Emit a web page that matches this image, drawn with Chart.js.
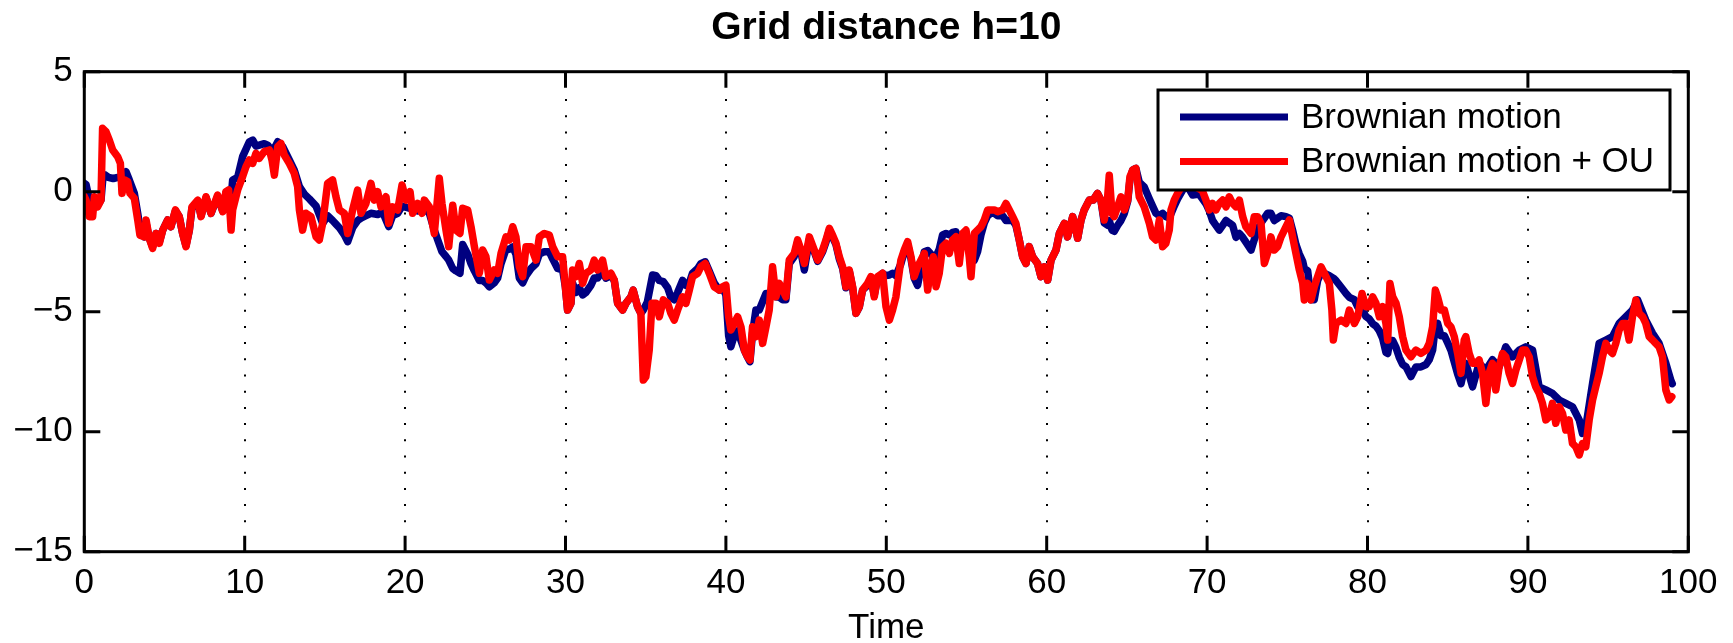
<html>
<head>
    <title>Grid distance h=10</title>
    <script src="https://cdn.jsdelivr.net/npm/chart.js@4.4.1/dist/chart.umd.min.js"></script>
    <style>
        body { margin: 0; background: #fff; }
        #wrap { position: relative; width: 1733px; height: 643px; }
    </style>
</head>
<body>
<div id="wrap">
    <canvas id="bmChart"></canvas>
</div>

<script>
  // series (time, value)
  const seriesLabels = ['Brownian motion', 'Brownian motion + OU']

  const bmTimes = [0, 0.11, 0.3, 0.5, 0.7, 0.9, 1.04, 1.15, 1.3, 1.5, 1.8, 2.1, 2.3, 2.6, 2.8, 3.12, 3.33, 3.47, 3.74, 3.85,
    4.05, 4.26, 4.47, 4.68, 4.89, 5.2, 5.4, 5.68, 5.92, 6.13, 6.34, 6.55, 6.71, 7.07, 7.28, 7.59, 7.9, 8.31, 8.63, 8.83,
    9.0, 9.15, 9.25, 9.56, 9.87, 10.29, 10.5, 10.7, 10.91, 11.22, 11.43, 11.74, 12.06, 12.37, 12.78, 13.09, 13.41, 13.72, 14.03, 14.45,
    14.86, 15.17, 15.48, 15.69, 15.9, 16.21, 16.42, 16.73, 17.04, 17.25, 17.56, 17.87, 18.29, 18.6, 18.98, 19.22, 19.54, 19.81, 20.31, 20.78,
    21.2, 21.51, 21.82, 22.03, 22.3, 22.55, 22.72, 22.97, 23.17, 23.42, 23.59, 23.9, 24.11, 24.32, 24.63, 24.84, 25.04, 25.25, 25.56, 25.77,
    25.98, 26.29, 26.5, 26.71, 26.91, 27.12, 27.33, 27.54, 27.85, 28.16, 28.37, 28.68, 28.99, 29.2, 29.51, 29.82, 29.99, 30.13, 30.34, 30.44,
    30.65, 30.86, 31.07, 31.27, 31.59, 31.79, 32.0, 32.31, 32.52, 32.83, 33.04, 33.25, 33.56, 33.77, 34.08, 34.22, 34.49, 34.7, 34.85, 35.1,
    35.43, 35.64, 35.85, 36.1, 36.37, 36.57, 36.78, 36.99, 37.3, 37.51, 37.72, 37.92, 38.24, 38.44, 38.71, 38.96, 39.27, 39.59, 39.79, 40.0,
    40.17, 40.31, 40.52, 40.73, 40.94, 41.15, 41.35, 41.5, 41.66, 41.87, 42.08, 42.5, 42.91, 43.12, 43.33, 43.54, 43.74, 43.95, 44.26, 44.47,
    44.68, 44.89, 45.2, 45.51, 45.72, 46.03, 46.24, 46.45, 46.65, 46.86, 47.07, 47.28, 47.48, 47.69, 47.9, 48.11, 48.32, 48.52, 48.83, 49.04,
    49.25, 49.46, 49.77, 49.98, 50.19, 50.39, 50.6, 50.91, 51.12, 51.33, 51.54, 51.74, 51.95, 52.16, 52.37, 52.58, 52.78, 52.93, 53.1, 53.3,
    53.51, 53.72, 53.93, 54.13, 54.34, 54.55, 54.76, 54.97, 55.17, 55.28, 55.49, 55.69, 55.9, 56.11, 56.32, 56.52, 56.73, 56.94, 57.25, 57.46,
    57.67, 57.88, 58.08, 58.29, 58.5, 58.71, 58.91, 59.12, 59.43, 59.64, 59.85, 60.06, 60.27, 60.58, 60.79, 61.1, 61.3, 61.62, 61.82, 61.93,
    62.14, 62.34, 62.66, 62.9, 63.17, 63.38, 63.59, 63.8, 63.9, 64.07, 64.21, 64.42, 64.63, 64.84, 65.05, 65.19, 65.36, 65.56, 65.77, 66.08,
    66.4, 66.6, 66.81, 67.02, 67.23, 67.43, 67.64, 67.95, 68.16, 68.5, 68.8, 69.1, 69.5, 69.93, 70.14, 70.34, 70.55, 70.76, 70.97, 71.18,
    71.38, 71.59, 71.8, 72.01, 72.22, 72.42, 72.74, 72.94, 73.15, 73.36, 73.57, 73.77, 73.98, 74.19, 74.4, 74.61, 74.92, 75.13, 75.33, 75.54,
    75.75, 75.96, 76.06, 76.27, 76.48, 76.68, 76.89, 77.1, 77.31, 77.62, 77.87, 78.03, 78.35, 78.66, 78.87, 79.18, 79.39, 79.66, 79.9, 80.11,
    80.32, 80.53, 80.74, 80.94, 81.15, 81.26, 81.4, 81.57, 81.78, 81.98, 82.19, 82.4, 82.71, 83.02, 83.33, 83.65, 83.85, 84.06, 84.23, 84.37,
    84.58, 84.79, 85.0, 85.2, 85.41, 85.62, 85.83, 86.03, 86.13, 86.55, 86.96, 87.38, 87.79, 88.21, 88.62, 89.04, 89.46, 89.87, 90.29, 90.7,
    91.12, 91.53, 91.95, 92.36, 92.78, 93.2, 93.4, 93.61, 94.03, 94.44, 94.86, 95.27, 95.69, 96.11, 96.52, 96.84, 97.35, 97.77, 98.18, 98.6,
    98.91, 99.0]
  const bmValues = [0.35, 0.3, -0.3, -0.5, -0.3, -0.5, -0.35, 0.5, 0.7, 0.6, 0.55, 0.6, 0.55, 0.83, 0.5, -0.07, -0.9, -1.5, -1.88, -1.3,
    -1.94, -2.3, -1.74, -2.1, -1.6, -1.18, -1.46, -0.8, -1.04, -1.74, -2.25, -1.6, -0.7, -0.4, -1.0, -0.25, -0.9, -0.2, -0.8, -0.05,
    0.05, -0.3, 0.49, 0.6, 1.46, 2.08, 2.15, 1.9, 1.94, 2.0, 1.94, 1.67, 2.08, 1.88, 1.32, 0.9, 0.21, -0.1, -0.3, -0.6,
    -1.32, -1.0, -1.2, -1.35, -1.5, -1.8, -2.08, -1.5, -1.2, -1.1, -1.0, -0.9, -0.95, -0.85, -1.45, -1.0, -0.9, -0.6, -0.7, -0.8,
    -0.7, -0.9, -1.6, -2.0, -2.5, -2.7, -2.85, -3.2, -3.3, -3.4, -2.2, -2.6, -3.0, -3.3, -3.7, -3.7, -3.8, -3.96, -3.8, -3.6,
    -3.0, -2.4, -2.4, -2.3, -2.6, -3.6, -3.8, -3.5, -3.2, -3.0, -2.6, -2.5, -2.5, -2.8, -3.2, -3.26, -3.96, -4.93, -4.65, -3.8,
    -4.2, -4.0, -4.3, -4.2, -3.9, -3.6, -3.6, -3.3, -3.6, -3.5, -3.7, -4.65, -4.93, -4.65, -4.38, -4.1, -4.79, -5.07, -4.93, -4.6,
    -3.47, -3.5, -3.7, -3.75, -4.0, -4.4, -4.5, -4.2, -3.7, -3.9, -3.8, -3.4, -3.2, -3.0, -2.92, -3.3, -3.8, -4.1, -4.0, -4.3,
    -6.0, -6.46, -6.0, -5.8, -6.2, -6.6, -6.9, -7.08, -5.9, -4.93, -4.93, -4.24, -4.24, -4.38, -4.4, -4.5, -4.5, -3.0, -2.7, -2.1,
    -2.5, -3.26, -2.0, -2.5, -2.9, -2.5, -2.1, -1.6, -1.9, -2.2, -2.8, -3.2, -4.0, -3.3, -4.0, -5.07, -4.8, -4.1, -3.9, -3.6,
    -4.3, -3.6, -3.4, -3.5, -3.47, -3.4, -3.5, -3.0, -2.5, -2.2, -2.8, -3.6, -3.9, -3.2, -2.5, -2.45, -2.6, -2.7, -2.7, -2.4,
    -1.8, -1.74, -1.8, -1.7, -1.67, -2.2, -1.8, -1.7, -2.4, -2.8, -2.85, -2.5, -1.8, -1.3, -1.0, -0.9, -0.9, -1.0, -1.0, -1.2,
    -1.2, -1.2, -1.4, -2.01, -2.71, -2.99, -2.29, -2.71, -2.99, -3.54, -3.13, -3.68, -2.85, -2.43, -1.74, -1.32, -1.88, -1.04, -1.6, -1.94,
    -1.18, -0.76, -0.35, -0.35, -0.07, -0.35, -1.3, -1.4, -1.2, -1.6, -1.65, -1.4, -1.2, -0.9, -0.4, 0.5, 0.9, 0.97, 0.4, 0.2,
    -0.3, -0.6, -0.9, -1.0, -0.9, -1.04, -1.1, -0.6, -0.3, 0.1, 0.2, -0.14, -0.1, -0.5, -0.8, -1.2, -1.4, -1.6, -1.4, -1.2,
    -1.3, -1.4, -1.9, -1.74, -1.9, -2.1, -2.43, -2.0, -1.6, -1.3, -1.1, -0.9, -0.9, -1.2, -1.1, -1.0, -1.04, -1.1, -1.6, -2.2,
    -2.6, -2.9, -3.2, -3.3, -4.5, -4.5, -3.7, -3.4, -3.4, -3.5, -3.6, -3.7, -3.97, -4.24, -4.4, -4.5, -4.8, -4.9, -5.2, -5.3,
    -5.5, -5.6, -5.8, -6.1, -6.7, -6.74, -6.2, -6.2, -6.5, -6.9, -7.2, -7.3, -7.7, -7.3, -7.3, -7.2, -7.0, -6.6, -5.6, -5.49,
    -6.0, -6.0, -6.3, -6.6, -7.1, -7.6, -8.0, -7.4, -7.15, -8.13, -7.15, -7.43, -7.0, -7.3, -6.46, -6.88, -6.6, -6.46, -6.6, -8.13,
    -8.26, -8.4, -8.68, -8.82, -8.96, -9.51, -10.07, -9.8, -7.99, -6.32, -6.18, -6.04, -5.49, -5.21, -4.93, -4.51, -5.35, -5.9, -6.32, -7.15,
    -7.86, -8.0]

  const ouTimes = [0, 0.11, 0.31, 0.52, 0.63, 0.83, 1.04, 1.14, 1.35, 1.56, 1.77, 2.08, 2.25, 2.35, 2.5, 2.7, 2.85, 3.12, 3.33, 3.47,
    3.74, 3.85, 4.05, 4.26, 4.47, 4.68, 4.89, 5.2, 5.4, 5.68, 5.92, 6.13, 6.34, 6.55, 6.71, 7.07, 7.28, 7.59, 7.9, 8.31,
    8.63, 8.83, 9.0, 9.15, 9.25, 9.56, 9.87, 10.08, 10.29, 10.5, 10.7, 10.91, 11.22, 11.54, 11.7, 11.85, 12.06, 12.26, 12.47, 12.78,
    13.09, 13.3, 13.41, 13.61, 13.82, 14.13, 14.45, 14.65, 14.86, 15.17, 15.48, 15.69, 15.9, 16.21, 16.42, 16.73, 17.04, 17.25, 17.56, 17.87,
    18.08, 18.29, 18.5, 18.81, 18.98, 19.22, 19.54, 19.81, 20.06, 20.31, 20.47, 20.78, 21.05, 21.2, 21.51, 21.82, 22.03, 22.13, 22.3, 22.55,
    22.72, 22.97, 23.17, 23.42, 23.59, 23.9, 24.11, 24.32, 24.63, 24.84, 25.04, 25.25, 25.56, 25.77, 25.98, 26.29, 26.5, 26.71, 26.91, 27.12,
    27.33, 27.54, 27.85, 28.16, 28.37, 28.68, 28.99, 29.2, 29.51, 29.82, 29.99, 30.13, 30.34, 30.44, 30.65, 30.86, 31.07, 31.27, 31.59, 31.79,
    32.0, 32.31, 32.52, 32.83, 33.04, 33.25, 33.56, 33.77, 34.08, 34.22, 34.49, 34.7, 34.85, 35.01, 35.22, 35.39, 35.64, 35.85, 36.1, 36.37,
    36.57, 36.78, 36.99, 37.3, 37.51, 37.72, 37.92, 38.24, 38.44, 38.71, 38.96, 39.27, 39.59, 39.79, 40.0, 40.17, 40.31, 40.52, 40.73, 40.94,
    41.15, 41.35, 41.5, 41.66, 41.87, 42.08, 42.29, 42.5, 42.7, 42.91, 43.12, 43.33, 43.54, 43.74, 43.95, 44.26, 44.47, 44.68, 44.89, 45.2,
    45.51, 45.72, 46.03, 46.24, 46.45, 46.65, 46.86, 47.07, 47.28, 47.48, 47.69, 47.9, 48.11, 48.32, 48.52, 48.83, 49.04, 49.25, 49.46, 49.77,
    49.98, 50.19, 50.39, 50.6, 50.91, 51.12, 51.33, 51.54, 51.74, 51.95, 52.16, 52.37, 52.58, 52.78, 52.93, 53.1, 53.3, 53.51, 53.72, 53.93,
    54.13, 54.34, 54.55, 54.76, 54.97, 55.17, 55.28, 55.49, 55.69, 55.9, 56.11, 56.32, 56.52, 56.73, 56.94, 57.25, 57.46, 57.67, 57.88, 58.08,
    58.29, 58.5, 58.71, 58.91, 59.12, 59.43, 59.64, 59.85, 60.06, 60.27, 60.58, 60.79, 61.1, 61.3, 61.62, 61.82, 61.93, 62.14, 62.34, 62.66,
    62.9, 63.17, 63.38, 63.59, 63.8, 63.9, 64.07, 64.21, 64.42, 64.63, 64.84, 65.05, 65.19, 65.36, 65.56, 65.77, 66.08, 66.4, 66.6, 66.81,
    67.02, 67.23, 67.43, 67.64, 67.75, 67.95, 68.16, 68.5, 68.9, 69.3, 69.7, 69.93, 70.14, 70.34, 70.55, 70.76, 70.97, 71.18, 71.38, 71.59,
    71.8, 72.01, 72.22, 72.42, 72.74, 72.94, 73.15, 73.36, 73.57, 73.77, 73.98, 74.19, 74.4, 74.61, 74.92, 75.13, 75.33, 75.54, 75.75, 75.96,
    76.06, 76.27, 76.48, 76.68, 76.89, 77.1, 77.31, 77.62, 77.78, 77.87, 78.03, 78.35, 78.66, 78.87, 79.18, 79.39, 79.66, 79.9, 80.11, 80.32,
    80.53, 80.74, 80.94, 81.15, 81.26, 81.4, 81.57, 81.78, 81.98, 82.19, 82.4, 82.71, 83.02, 83.33, 83.65, 83.85, 84.06, 84.23, 84.37, 84.58,
    84.79, 85.0, 85.2, 85.41, 85.62, 85.83, 86.03, 86.13, 86.34, 86.55, 86.75, 86.96, 87.17, 87.38, 87.58, 87.79, 88.0, 88.21, 88.42, 88.62,
    88.83, 89.04, 89.25, 89.46, 89.66, 89.87, 90.08, 90.29, 90.49, 90.7, 90.91, 91.12, 91.33, 91.53, 91.74, 91.95, 92.16, 92.36, 92.57, 92.78,
    92.99, 93.2, 93.4, 93.61, 93.82, 94.03, 94.23, 94.44, 94.65, 94.86, 95.07, 95.27, 95.48, 95.69, 95.9, 96.11, 96.31, 96.52, 96.73, 96.94,
    97.15, 97.35, 97.56, 97.77, 97.97, 98.18, 98.39, 98.6, 98.81, 98.97]
  const ouValues = [-0.2, -0.35, -1.04, -1.04, -0.21, -0.63, -0.35, 2.64, 2.5, 2.15, 1.74, 1.46, 1.18, -0.07, 0.49, 0.42, -0.07, -0.28, -1.18, -1.81,
    -1.88, -1.18, -1.94, -2.36, -1.74, -2.15, -1.6, -1.18, -1.46, -0.76, -1.04, -1.74, -2.29, -1.6, -0.63, -0.35, -1.04, -0.21, -0.9, -0.14,
    -0.83, 0, 0.07, -1.6, -0.76, 0.07, 0.63, 1.04, 1.32, 1.18, 1.6, 1.39, 1.67, 1.74, 1.32, 0.69, 1.88, 2.01, 1.53, 1.18,
    0.76, 0.21, -0.76, -1.6, -0.9, -1.04, -1.88, -2.01, -1.32, 0.35, 0.49, -0.21, -0.76, -0.9, -1.74, -0.76, 0.07, -0.9, -0.49, 0.35,
    -0.35, 0, -0.63, -0.21, -1.32, -0.63, -0.76, 0.28, -0.35, 0, -0.9, -0.49, -0.9, -0.35, -0.63, -1.74, -0.21, 0.56, -0.49, -1.6,
    -2.29, -0.56, -1.6, -1.74, -0.69, -0.76, -1.46, -2.29, -3.4, -2.43, -2.71, -3.68, -3.26, -3.4, -2.57, -1.88, -2.01, -1.46, -1.88, -3.13,
    -3.54, -2.29, -2.29, -2.85, -1.88, -1.74, -1.81, -2.29, -2.71, -2.71, -3.96, -4.93, -4.65, -3.26, -3.54, -2.99, -3.82, -3.4, -3.26, -2.85,
    -3.26, -2.85, -3.54, -3.4, -3.68, -4.65, -4.93, -4.65, -4.38, -4.1, -4.79, -5.07, -7.85, -7.71, -6.6, -4.65, -4.65, -5.21, -4.51, -4.65,
    -5.07, -5.35, -4.93, -4.38, -4.65, -4.1, -3.54, -3.4, -3.13, -2.99, -3.4, -3.96, -4.1, -3.96, -3.89, -5.21, -5.76, -5.49, -5.21, -5.63,
    -6.6, -6.88, -7.01, -5.63, -6.04, -5.35, -6.32, -5.63, -4.93, -3.13, -4.38, -3.82, -4.1, -4.38, -2.85, -2.57, -2.01, -2.43, -2.99, -1.88,
    -2.43, -2.85, -2.43, -2.01, -1.53, -1.81, -2.15, -2.71, -3.13, -3.96, -3.26, -3.96, -5.07, -4.79, -4.1, -3.82, -3.54, -4.38, -3.54, -3.4,
    -4.79, -5.35, -4.93, -4.38, -2.85, -2.43, -2.08, -2.71, -3.54, -3.13, -2.85, -2.57, -4.1, -3.13, -2.71, -3.96, -3.4, -2.29, -2.15, -2.57,
    -2.01, -1.88, -2.99, -1.74, -1.6, -2.71, -3.54, -1.74, -1.6, -1.46, -1.18, -0.76, -0.76, -0.76, -0.83, -0.76, -0.49, -0.76, -1.04, -1.32,
    -2.01, -2.71, -2.99, -2.29, -2.71, -2.99, -3.54, -3.13, -3.68, -2.85, -2.43, -1.74, -1.32, -1.88, -1.04, -1.6, -1.94, -1.18, -0.76, -0.35,
    -0.35, -0.07, -0.35, -1.18, -0.21, 0.69, -0.9, -1.04, -0.63, -0.21, -0.76, -0.35, 0.63, 0.9, 0.97, -0.21, -0.63, -1.32, -1.88, -2.01,
    -1.18, -2.29, -2.15, -1.6, -0.76, -0.35, -0.07, 0.3, 0.45, 0.2, 0.05, -0.35, -0.76, -0.49, -0.76, -0.49, -0.35, -0.63, -0.21, -0.49,
    -0.63, -0.35, -1.04, -1.46, -1.74, -1.04, -1.04, -1.32, -2.99, -2.57, -1.88, -2.43, -2.29, -1.88, -1.46, -1.18, -1.88, -2.57, -3.26, -3.82,
    -4.51, -3.82, -4.51, -3.96, -3.54, -3.13, -3.4, -3.82, -4.93, -6.18, -5.49, -5.35, -5.49, -4.93, -5.49, -5.21, -4.24, -4.79, -4.79, -4.38,
    -4.65, -5.21, -4.79, -5.49, -6.18, -3.82, -4.38, -4.65, -5.21, -6.04, -6.6, -6.88, -6.6, -6.74, -6.6, -6.32, -5.63, -4.1, -4.38, -4.93,
    -4.93, -5.49, -5.63, -6.04, -6.74, -7.57, -6.18, -6.04, -6.74, -7.15, -7.15, -7.01, -7.57, -8.82, -7.57, -7.15, -8.26, -7.29, -6.74, -6.88,
    -7.57, -7.99, -7.43, -7.01, -6.6, -6.6, -6.88, -7.71, -8.13, -8.4, -8.82, -9.51, -9.38, -8.82, -9.65, -8.96, -9.24, -9.93, -9.51, -10.49,
    -10.63, -10.97, -10.49, -10.63, -9.51, -8.68, -8.13, -7.57, -6.88, -6.32, -6.6, -6.74, -6.32, -5.76, -5.49, -5.49, -6.18, -5.21, -4.51, -5.07,
    -5.21, -5.49, -6.04, -6.18, -6.32, -6.46, -6.88, -8.26, -8.68, -8.54]

  const xTicks = [0, 10, 20, 30, 40, 50, 60, 70, 80, 90, 100]
  const yTicks = [5, 0, -5, -10, -15]

  const fontFamily = "'Liberation Sans', Arial, Helvetica, sans-serif"

  function toPoints(times, values) {
    let pts = []
    for (let i = 0; i < times.length; i++) {
      pts.push({ x: times[i], y: values[i] })
    }
    return pts
  }

  // matlab style box, inward ticks and a legend drawn over the data
  const matlabAxes = {
    id: 'matlabAxes',
    afterDatasetsDraw(chart) {
      const ctx = chart.ctx
      const a = chart.chartArea
      const xs = chart.scales.x
      const ys = chart.scales.y
      const tl = 16
      ctx.save()

      // legend box
      const lx = 1158, ly = 90, lw = 512, lh = 100
      ctx.fillStyle = '#fff'
      ctx.fillRect(lx, ly, lw, lh)
      ctx.lineWidth = 3
      ctx.strokeStyle = '#000'
      ctx.strokeRect(lx, ly, lw, lh)
      chart.data.datasets.forEach((ds, i) => {
        const yy = ly + 27 + i * 44.5
        ctx.beginPath()
        ctx.lineWidth = 7
        ctx.strokeStyle = ds.borderColor
        ctx.moveTo(lx + 22, yy)
        ctx.lineTo(lx + 130, yy)
        ctx.stroke()
        ctx.fillStyle = '#000'
        ctx.font = '35px ' + fontFamily
        ctx.textBaseline = 'middle'
        ctx.textAlign = 'left'
        ctx.fillText(ds.label, lx + 143, yy + 1)
      })

      // box and ticks
      ctx.lineWidth = 3
      ctx.strokeStyle = '#000'
      ctx.lineCap = 'butt'
      ctx.strokeRect(a.left, a.top, a.right - a.left, a.bottom - a.top)
      ctx.beginPath()
      xTicks.forEach(v => {
        const px = xs.getPixelForValue(v)
        ctx.moveTo(px, a.bottom)
        ctx.lineTo(px, a.bottom - tl)
        ctx.moveTo(px, a.top)
        ctx.lineTo(px, a.top + tl)
      })
      yTicks.forEach(v => {
        const py = ys.getPixelForValue(v)
        ctx.moveTo(a.left, py)
        ctx.lineTo(a.left + tl, py)
        ctx.moveTo(a.right, py)
        ctx.lineTo(a.right - tl, py)
      })
      ctx.stroke()
      ctx.restore()
    }
  }

  new Chart(document.getElementById('bmChart'), {
    type: 'line',
    data: {
      datasets: [
        {
          label: seriesLabels[0],
          data: toPoints(bmTimes, bmValues),
          borderColor: 'rgb(0, 0, 128)',
          borderWidth: 7.5,
          pointRadius: 0,
          tension: 0,
          fill: false,
          borderJoinStyle: 'round',
          borderCapStyle: 'round',
          order: 1
        },
        {
          label: seriesLabels[1],
          data: toPoints(ouTimes, ouValues),
          borderColor: 'rgb(255, 0, 0)',
          borderWidth: 7.5,
          pointRadius: 0,
          tension: 0,
          fill: false,
          borderJoinStyle: 'round',
          borderCapStyle: 'round',
          order: 0
        }
      ]
    },
    options: {
      responsive: true,
      maintainAspectRatio: false,
      animation: false,
      events: [],
      layout: { padding: { left: 0, right: 44.7, top: 0, bottom: 0 } },
      plugins: {
        legend: { display: false },
        tooltip: { enabled: false },
        title: {
          display: true,
          text: 'Grid distance h=10',
          color: '#000',
          fullSize: false,
          font: { family: fontFamily, size: 39, weight: 'bold', lineHeight: 1.2 },
          padding: { top: 4.6, bottom: 20.3 }
        }
      },
      scales: {
        x: {
          type: 'linear',
          min: 0,
          max: 100,
          afterBuildTicks: (s) => { s.ticks = xTicks.map(v => ({ value: v })) },
          afterFit: (s) => { s.height = 91.3 },
          ticks: {
            color: '#000',
            padding: 11,
            maxRotation: 0,
            autoSkip: false,
            font: { family: fontFamily, size: 35 }
          },
          grid: {
            display: true,
            drawTicks: false,
            color: '#000',
            lineWidth: 2
          },
          border: { display: false, dash: [2, 14.2], dashOffset: 5 },
          title: {
            display: true,
            text: 'Time',
            color: '#000',
            font: { family: fontFamily, size: 35, lineHeight: 0.857 },
            padding: { top: 0, bottom: 0 }
          }
        },
        y: {
          type: 'linear',
          min: -15,
          max: 5,
          afterBuildTicks: (s) => { s.ticks = yTicks.map(v => ({ value: v })) },
          afterFit: (s) => { s.width = 84.3 },
          ticks: {
            color: '#000',
            padding: 11.7,
            font: { family: fontFamily, size: 35 },
            callback: (v) => v < 0 ? '\u2212' + Math.abs(v) : String(v)
          },
          grid: { display: false, drawTicks: false },
          border: { display: false }
        }
      }
    },
    plugins: [matlabAxes]
  })
</script>
</body>
</html>
